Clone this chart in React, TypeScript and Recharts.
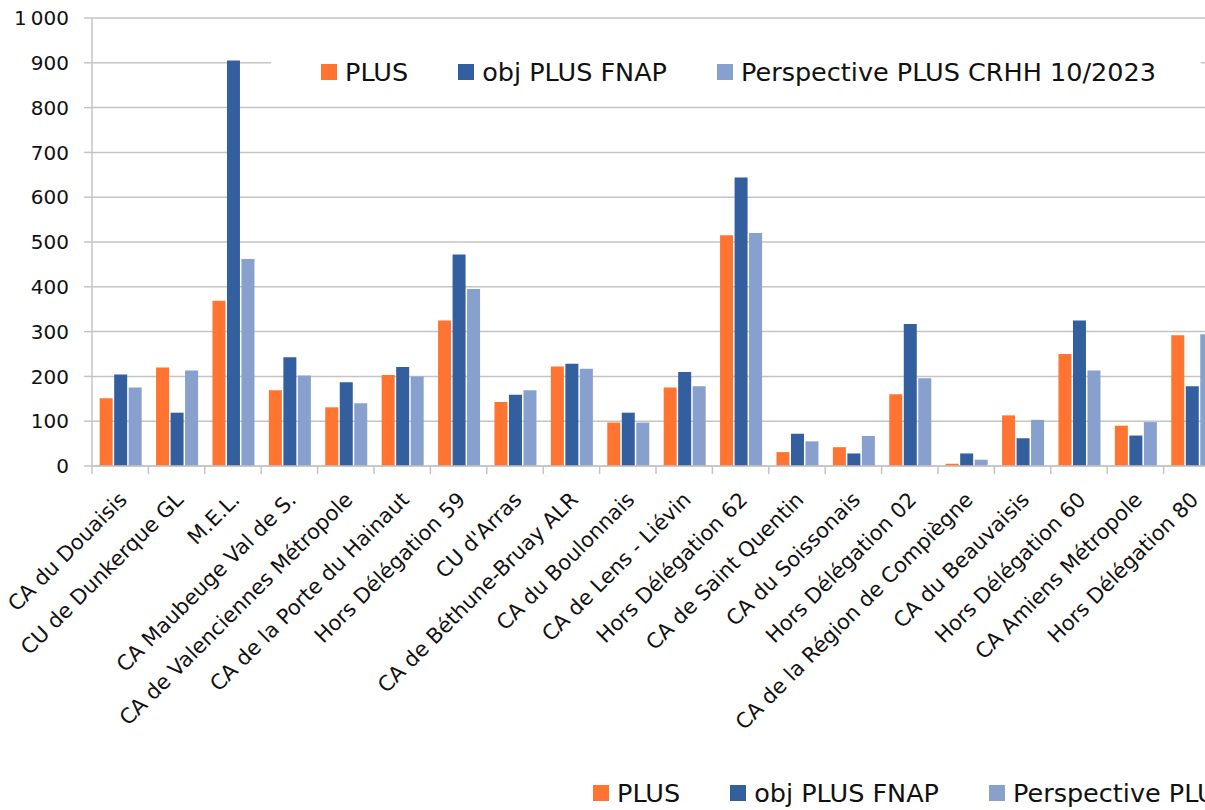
import React from 'react';
import {
  BarChart,
  Bar,
  XAxis,
  YAxis,
  CartesianGrid,
  Legend,
} from 'recharts';

const territories = [
  'CA du Douaisis',
  'CU de Dunkerque GL',
  'M.E.L.',
  'CA Maubeuge Val de S.',
  'CA de Valenciennes Métropole',
  'CA de la Porte du Hainaut',
  'Hors Délégation 59',
  "CU d'Arras",
  'CA de Béthune-Bruay ALR',
  'CA du Boulonnais',
  'CA de Lens - Liévin',
  'Hors Délégation 62',
  'CA de Saint Quentin',
  'CA du Soissonais',
  'Hors Délégation 02',
  'CA de la Région de Compiègne',
  'CA du Beauvaisis',
  'Hors Délégation 60',
  'CA Amiens Métropole',
  'Hors Délégation 80',
];

const plus = [151, 220, 369, 169, 131, 203, 325, 143, 222, 97, 175, 515, 31, 42, 160, 5, 113, 250, 90, 292];
const objPlusFnap = [204, 119, 905, 243, 187, 221, 472, 159, 228, 119, 210, 644, 72, 28, 317, 28, 62, 325, 68, 178];
const perspective = [175, 213, 462, 202, 140, 200, 395, 169, 217, 97, 178, 520, 55, 67, 196, 14, 103, 213, 98, 294];

const seriesNames = ['PLUS', 'obj PLUS FNAP', 'Perspective PLUS CRHH 10/2023'];

const yTicks = [0, 100, 200, 300, 400, 500, 600, 700, 800, 900, 1000];

const data = territories.map((name, i) => ({
  name,
  plus: plus[i],
  obj: objPlusFnap[i],
  persp: perspective[i],
}));

const FONT = '"DejaVu Sans", sans-serif';
const GRID = '#c4c4c4';

// category label rotated, plus a short tick at the left edge of each band
const CategoryTick = (props: any) => {
  const { x, y, payload } = props;
  const half = payload?.offset ?? 0;
  return (
    <g>
      <line x1={x - half} x2={x - half} y1={y - 8} y2={y} stroke={GRID} strokeWidth={1.5} />
      <text
        transform={`translate(${x + 8},${y + 27}) rotate(-45)`}
        textAnchor="end"
        fontSize={21}
        fontFamily={FONT}
        fill="#111"
      >
        {payload.value}
      </text>
    </g>
  );
};

const renderLegend = (props: any) => {
  const items = [...(props.payload || [])].sort(
    (a: any, b: any) => seriesNames.indexOf(a.value) - seriesNames.indexOf(b.value),
  );
  return (
    <div style={{ display: 'flex', alignItems: 'center', height: '100%', fontFamily: FONT, fontSize: 25.5, color: '#111' }}>
      {items.map((entry: any) => (
        <div key={entry.value} style={{ display: 'flex', alignItems: 'center', marginRight: 50 }}>
          <span style={{ width: 16, height: 16, background: entry.color, marginRight: 8, display: 'inline-block' }} />
          <span style={{ whiteSpace: 'nowrap' }}>{entry.value}</span>
        </div>
      ))}
    </div>
  );
};

export default function App() {
  return (
    <div style={{ position: 'fixed', left: 0, top: 0, width: 1205, height: 810, overflow: 'hidden', background: '#fff' }}>
      <BarChart
        width={1240}
        height={810}
        data={data}
        margin={{ top: 18, right: 20, left: 0, bottom: 44 }}
        barCategoryGap="13.6%"
        barGap={1.5}
      >
        <CartesianGrid vertical={false} stroke={GRID} strokeWidth={1.5} />
        <XAxis
          dataKey="name"
          interval={0}
          height={300}
          tickSize={8}
          tickMargin={0}
          tickLine={false}
          axisLine={{ stroke: GRID, strokeWidth: 1.5 }}
          tick={<CategoryTick />}
        />
        <YAxis
          domain={[0, 1000]}
          ticks={yTicks}
          width={92}
          tickSize={8}
          tickMargin={15}
          tickLine={{ stroke: GRID, strokeWidth: 1.5 }}
          axisLine={{ stroke: GRID, strokeWidth: 1.5 }}
          tick={{ fontSize: 20, fontFamily: FONT, fill: '#111' }}
          tickFormatter={(v: number) => v.toLocaleString('fr-FR')}
        />
        <Legend
          layout="horizontal"
          verticalAlign="middle"
          align="center"
          content={renderLegend}
          wrapperStyle={{ position: 'absolute', left: 271, top: 42, width: 930, height: 60, paddingLeft: 50, background: '#fff', boxSizing: 'border-box' }}
        />
        <Legend
          layout="horizontal"
          verticalAlign="middle"
          align="center"
          content={renderLegend}
          wrapperStyle={{ position: 'absolute', left: 593, top: 775, width: 700, height: 36 }}
        />
        <Bar dataKey="plus" name="PLUS" fill="#ff7431" isAnimationActive={false} />
        <Bar dataKey="obj" name="obj PLUS FNAP" fill="#335f9e" isAnimationActive={false} />
        <Bar dataKey="persp" name="Perspective PLUS CRHH 10/2023" fill="#87a0cd" isAnimationActive={false} />
      </BarChart>
    </div>
  );
}
